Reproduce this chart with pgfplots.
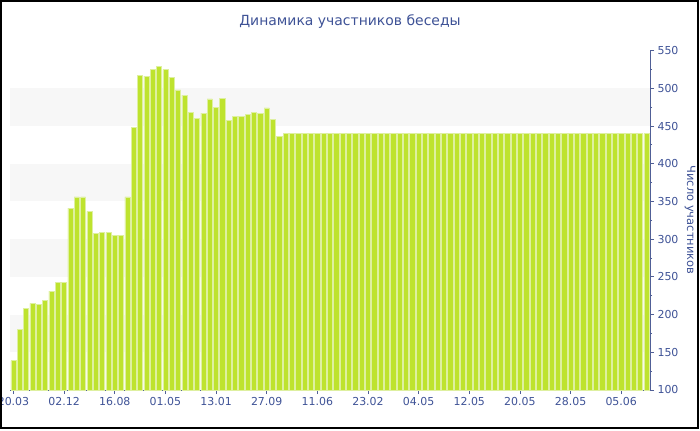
\documentclass[border=0pt]{standalone}
\usepackage{pgfplots}
\pgfplotsset{compat=1.18}
\usepackage{fontspec}
\setmainfont{DejaVu Sans}
\definecolor{barc}{RGB}{190,227,46}
\definecolor{baredge}{RGB}{222,240,160}
\definecolor{txt}{RGB}{62,82,150}
\definecolor{axl}{RGB}{80,95,150}
\definecolor{band}{RGB}{247,247,247}
\begin{document}
\begin{tikzpicture}[x=1bp,y=1bp]
\path[use as bounding box] (0,0) rectangle (700,430);
\begin{axis}[
  at={(10bp,40bp)}, anchor=south west,
  scale only axis, width=640bp, height=339.4bp,
  xmin=-0.55, xmax=100.55, ymin=100, ymax=550,
  axis x line*=bottom, axis y line*=right,
  axis line style={axl, line width=0.8bp, -},
  ybar, bar width=0.82,
  xtick={0,8,...,96},
  xticklabels={20.03,02.12,16.08,01.05,13.01,27.09,11.06,23.02,04.05,12.05,20.05,28.05,05.06},
  ytick={100,150,...,550},
  minor y tick num=1,
  tick align=outside,
  major tick length=4bp, minor tick length=2bp,
  tick style={axl, line width=0.8bp},
  ticklabel style={font=\fontsize{11}{13}\selectfont, text=txt},
  /pgf/number format/assume math mode=true,
]
\fill[band] (axis cs:-0.55,150) rectangle (axis cs:100.55,200);
\fill[band] (axis cs:-0.55,250) rectangle (axis cs:100.55,300);
\fill[band] (axis cs:-0.55,350) rectangle (axis cs:100.55,400);
\fill[band] (axis cs:-0.55,450) rectangle (axis cs:100.55,500);
\addplot[fill=barc, draw=baredge, line width=0.6bp] coordinates {
(0,139)(1,180)(2,208)(3,215)(4,214)(5,219)(6,231)(7,243)(8,243)(9,341)
(10,356)(11,356)(12,337)(13,308)(14,309)(15,309)(16,305)(17,305)(18,356)(19,448)
(20,517)(21,516)(22,525)(23,529)(24,525)(25,514)(26,498)(27,491)(28,468)(29,460)
(30,467)(31,486)(32,475)(33,487)(34,457)(35,463)(36,463)(37,465)(38,468)(39,467)
(40,474)(41,459)(42,436)(43,440)(44,440)(45,440)(46,440)(47,440)(48,440)(49,440)
(50,440)(51,440)(52,440)(53,440)(54,440)(55,440)(56,440)(57,440)(58,440)(59,440)
(60,440)(61,440)(62,440)(63,440)(64,440)(65,440)(66,440)(67,440)(68,440)(69,440)
(70,440)(71,440)(72,440)(73,440)(74,440)(75,440)(76,440)(77,440)(78,440)(79,440)
(80,440)(81,440)(82,440)(83,440)(84,440)(85,440)(86,440)(87,440)(88,440)(89,440)
(90,440)(91,440)(92,440)(93,440)(94,440)(95,440)(96,440)(97,440)(98,440)(99,440)
(100,440)};
\end{axis}
\node[font=\fontsize{14}{16}\selectfont, text=txt] at (350,408) {Динамика участников беседы};
\node[rotate=-90, font=\fontsize{11.5}{13}\selectfont, text=txt] at (690,210) {Число участников};
\draw[black, line width=2bp] (1,2.5) rectangle (697.7,429);
\end{tikzpicture}
\end{document}
